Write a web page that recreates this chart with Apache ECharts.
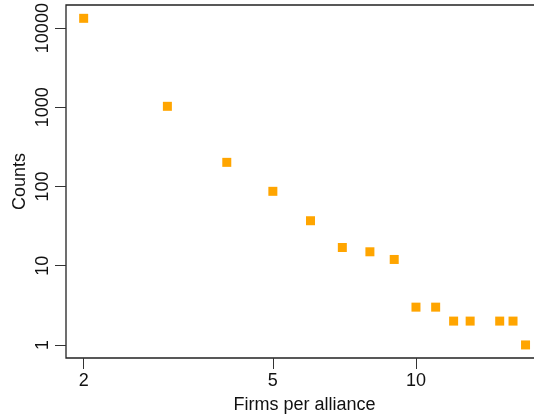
<!DOCTYPE html>
<html>
<head>
<meta charset="utf-8">
<script src="https://cdn.jsdelivr.net/npm/echarts@6/dist/echarts.min.js"></script>
<style>
html,body{margin:0;padding:0;background:#fff;}
#chart{width:534px;height:416px;}
</style>
</head>
<body>
<div id="chart"></div>
<script>
var firms = [2, 3, 4, 5, 6, 7, 8, 9, 10, 11, 12, 13, 15, 16, 17];
var counts = [13300, 1030, 202, 87, 37, 17, 15, 12, 3, 3, 2, 2, 2, 2, 1];
var xTicks = [2, 5, 10];
var yTicks = [1, 10, 100, 1000, 10000];

var pts = firms.map(function (f, i) { return [f, counts[i]]; });
var font = '"Liberation Sans", Arial, Helvetica, sans-serif';

var chart = echarts.init(document.getElementById('chart'), null, {renderer: 'canvas'});
chart.setOption({
  animation: false,
  backgroundColor: '#ffffff',
  grid: {left: 66, top: 5, right: -9, bottom: 58, show: true, borderColor: '#222', borderWidth: 1.3, containLabel: false, outerBoundsMode: 'none'},
  xAxis: {
    type: 'log', logBase: 10, min: 1.836, max: 18.5,
    name: 'Firms per alliance', nameLocation: 'middle', nameGap: 38,
    nameTextStyle: {fontFamily: font, fontSize: 18, color: '#111'},
    axisLine: {show: false},
    splitLine: {show: false},
    minorTick: {show: false},
    axisTick: {show: true, inside: false, length: 11, lineStyle: {color: '#333', width: 1}, customValues: xTicks},
    axisLabel: {fontFamily: font, fontSize: 18, color: '#111', margin: 14, customValues: xTicks, formatter: function (v) { return String(Math.round(v)); }}
  },
  yAxis: {
    type: 'log', logBase: 10, min: 0.684, max: 19590,
    name: 'Counts', nameLocation: 'middle', nameGap: 37, nameRotate: 90, nameMoveOverlap: false,
    nameTextStyle: {fontFamily: font, fontSize: 18, color: '#111'},
    axisLine: {show: false},
    splitLine: {show: false},
    minorTick: {show: false},
    axisTick: {show: true, inside: false, length: 11, lineStyle: {color: '#333', width: 1}, customValues: yTicks},
    axisLabel: {fontFamily: font, fontSize: 18, color: '#111', margin: 14, rotate: 90, customValues: yTicks, formatter: function (v) { return String(Math.round(v)); }}
  },
  series: [{
    type: 'scatter',
    data: pts,
    symbol: 'rect',
    symbolSize: 9,
    itemStyle: {color: '#FFA500', opacity: 1}
  }]
});
</script>
</body>
</html>
